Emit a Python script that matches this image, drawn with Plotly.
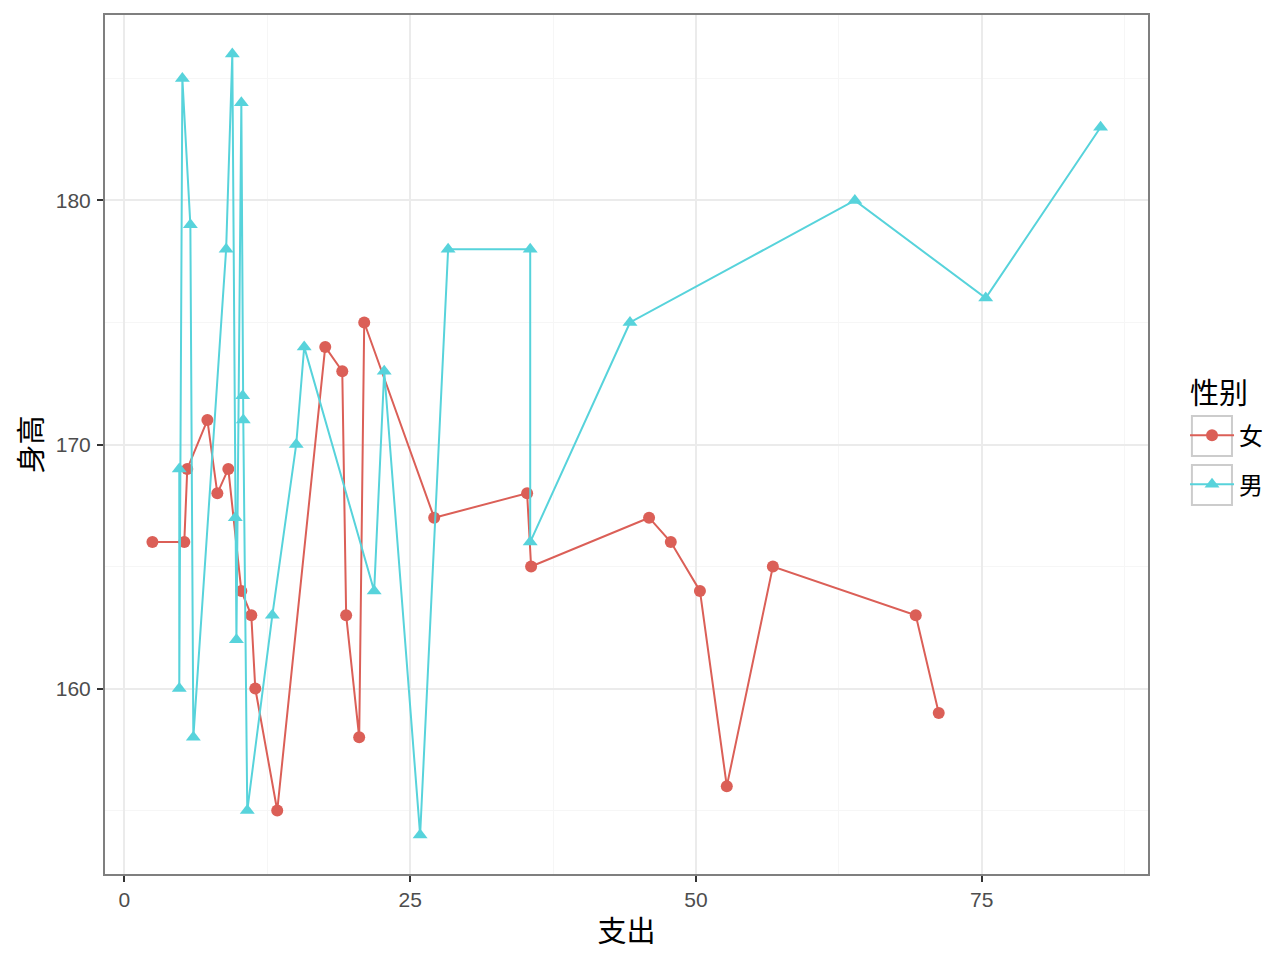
import plotly.graph_objects as go

# 女 (female)
f_spend = [2.45, 5.24, 5.5, 7.26, 8.13, 9.09, 10.23, 11.1, 11.45, 13.37, 17.57, 19.06, 19.4,
           20.54, 20.98, 27.1, 35.23, 35.58, 45.9, 47.8, 50.35, 52.7, 56.73, 69.23, 71.24]
f_height = [166, 166, 169, 171, 168, 169, 164, 163, 160, 155, 174, 173, 163,
            158, 175, 167, 168, 165, 167, 166, 164, 156, 165, 163, 159]

# 男 (male)
m_spend = [4.8, 4.8, 5.07, 5.77, 6.03, 8.9, 9.44, 9.7, 9.8, 10.23, 10.35, 10.4, 10.75,
           12.94, 15.03, 15.73, 21.85, 22.73, 25.87, 28.32, 35.5, 35.5, 44.23, 63.9, 75.35, 85.4]
m_height = [169, 160, 185, 179, 158, 178, 186, 167, 162, 184, 172, 171, 155,
            163, 170, 174, 164, 173, 154, 178, 178, 166, 175, 180, 176, 183]

x_ticks = [0, 25, 50, 75]
y_ticks = [160, 170, 180]

RED = "#db5f57"
CYAN = "#57d3db"
CJK = "Noto Sans CJK SC"
TICKFONT = "Liberation Sans"


def expand(vals, frac=0.05):
    lo, hi = min(vals), max(vals)
    pad = (hi - lo) * frac
    return [lo - pad, hi + pad]


fig = go.Figure()
fig.add_trace(go.Scatter(
    x=f_spend, y=f_height, mode="lines+markers", name="女", legendgroup="f",
    line=dict(color=RED, width=2),
    marker=dict(symbol="circle", size=12, color=RED),
))
fig.add_trace(go.Scatter(
    x=m_spend, y=m_height, mode="lines+markers", name="男", legendgroup="m",
    line=dict(color=CYAN, width=2),
    marker=dict(symbol="triangle-up", size=13, color=CYAN),
))

axis_common = dict(
    showline=True, mirror=True, linecolor="#7f7f7f", linewidth=2,
    ticks="outside", ticklen=6, tickwidth=2, tickcolor="#333333",
    tickfont=dict(family=TICKFONT, size=21, color="#4d4d4d"),
    showgrid=True, gridcolor="#ebebeb", gridwidth=2,
    zeroline=False,
)

fig.update_xaxes(
    **axis_common,
    range=expand(f_spend + m_spend),
    tickvals=x_ticks, ticktext=[str(v) for v in x_ticks],
    minor=dict(showgrid=True, gridcolor="#f6f6f6", gridwidth=1, dtick=12.5, tick0=0),
    title=dict(text="支出", font=dict(family=CJK, size=29, color="black"), standoff=11),
)
fig.update_yaxes(
    **axis_common,
    range=expand(f_height + m_height),
    tickvals=y_ticks, ticktext=[str(v) for v in y_ticks],
    ticklabelstandoff=2,
    minor=dict(showgrid=True, gridcolor="#f6f6f6", gridwidth=1, dtick=5, tick0=0),
    title=dict(text="身高", font=dict(family=CJK, size=29, color="black"), standoff=12),
)

# legend key boxes (ggplot-style) and legend title
for (y0, y1) in [(0.4866, 0.5331), (0.4297, 0.4762)]:
    fig.add_shape(type="rect", xref="paper", yref="paper",
                  x0=1.0421, x1=1.0805, y0=y0, y1=y1,
                  line=dict(color="#cccccc", width=2), fillcolor="rgba(0,0,0,0)")

fig.add_annotation(text="性别", xref="paper", yref="paper", x=1.038, y=0.5621,
                   xanchor="left", yanchor="middle", showarrow=False,
                   font=dict(family=CJK, size=29, color="black"))

fig.update_layout(
    width=1280, height=960,
    margin=dict(l=97, r=140, t=5, b=94),
    plot_bgcolor="white", paper_bgcolor="white",
    legend=dict(
        font=dict(family=CJK, size=24, color="black"),
        x=1.0355, xanchor="left", y=0.5366, yanchor="top",
        itemwidth=44,
        tracegroupgap=15, traceorder="grouped",
        bgcolor="rgba(0,0,0,0)",
    ),
)

fig.write_html("out.html")
